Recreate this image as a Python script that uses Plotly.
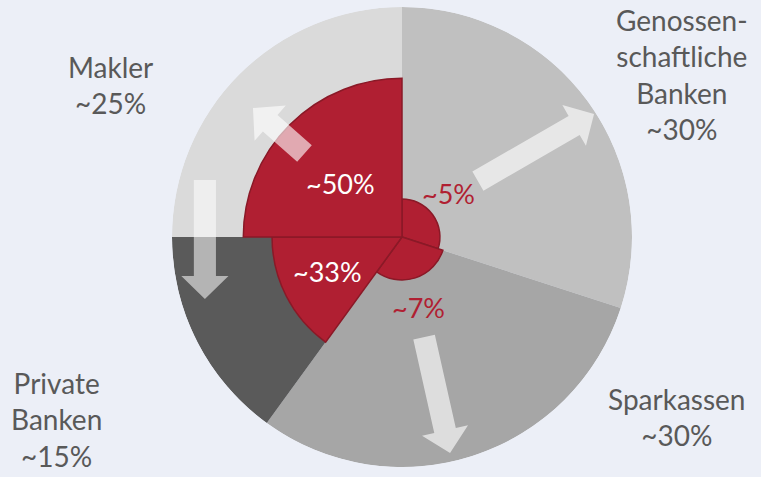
import math
import plotly.graph_objects as go

# ---------------- data ----------------
categories = ["Genossenschaftliche Banken", "Sparkassen", "Private Banken", "Makler"]
outer_labels = ["Genossen-<br>schaftliche<br>Banken<br>~30%", "Sparkassen<br>~30%",
                "Private<br>Banken<br>~15%", "Makler<br>~25%"]
market_share = [30, 30, 15, 25]          # outer pie slices (%)
inner_labels = ["~5%", "~7%", "~33%", "~50%"]
inner_radius = [16.5, 18.7, 56.5, 69.0]  # radius of red wedges (outer radius = 100)

# ---------------- styles ----------------
BG = "#eceff7"
gray_colors = ["#c0c0c0", "#a6a6a6", "#5a5a5a", "#dadada"]
RED = "#b01f32"
RED_EDGE = "#8a1927"
TEXT_GRAY = "#595959"
FONT = "Source Sans Pro, Lato, sans-serif"
W, H = 761, 477

# angles derived from the shares
width_deg = [s * 3.6 for s in market_share]
mid_deg = []
acc = 0
for w in width_deg:
    mid_deg.append(acc + w / 2)
    acc += w

fig = go.Figure()

fig.add_trace(go.Barpolar(
    r=[100] * len(categories), theta=mid_deg, width=width_deg,
    marker=dict(color=gray_colors, line=dict(width=0)),
    hoverinfo="skip", name="Markt"))

fig.add_trace(go.Barpolar(
    r=inner_radius, theta=mid_deg, width=width_deg,
    marker=dict(color=RED, line=dict(color=RED_EDGE, width=1.5)),
    hoverinfo="skip", name="Anteil"))

# decorative arrows (tail, tip in units of outer radius, x right / y up)
arrows = [
    ((0.330, 0.243), (0.835, 0.535), 0.62),
    ((0.096, -0.435), (0.209, -0.939), 0.62),
    ((-0.857, 0.248), (-0.857, -0.270), 0.55),
    ((-0.424, 0.363), (-0.648, 0.561), 0.62),
]
SW, HW, HL = 0.096, 0.205, 0.10
for (tx, ty), (px, py), op in arrows:
    L = math.hypot(px - tx, py - ty)
    ux, uy = (px - tx) / L, (py - ty) / L
    nx, ny = -uy, ux
    bx, by = px - ux * HL, py - uy * HL
    pts = [
        (tx + nx * SW / 2, ty + ny * SW / 2),
        (bx + nx * SW / 2, by + ny * SW / 2),
        (bx + nx * HW / 2, by + ny * HW / 2),
        (px, py),
        (bx - nx * HW / 2, by - ny * HW / 2),
        (bx - nx * SW / 2, by - ny * SW / 2),
        (tx - nx * SW / 2, ty - ny * SW / 2),
    ]
    pts.append(pts[0])
    rr = [100 * math.hypot(x, y) for x, y in pts]
    th = [math.degrees(math.atan2(x, y)) % 360 for x, y in pts]
    fig.add_trace(go.Scatterpolar(
        r=rr, theta=th, mode="lines", fill="toself",
        fillcolor=f"rgba(255,255,255,{op})", line=dict(width=0),
        hoverinfo="skip", showlegend=False))

# outer labels
outer_pos = [(682, 75), (676, 417), (57, 419), (110, 85)]
annotations = []
for txt, (x, y) in zip(outer_labels, outer_pos):
    annotations.append(dict(text=txt, x=x / W, y=1 - y / H, xref="paper", yref="paper",
                            showarrow=False, xanchor="center", yanchor="middle",
                            font=dict(family=FONT, size=28, color=TEXT_GRAY)))

inner_pos = [(448, 193), (418, 307), (327, 271), (340, 183)]
inner_colors = [RED, RED, "white", "white"]
for txt, (x, y), c in zip(inner_labels, inner_pos, inner_colors):
    annotations.append(dict(text=txt, x=x / W, y=1 - y / H, xref="paper", yref="paper",
                            showarrow=False, xanchor="center", yanchor="middle",
                            font=dict(family=FONT, size=27, color=c)))

fig.update_layout(
    width=W, height=H,
    margin=dict(l=0, r=0, t=0, b=0),
    paper_bgcolor=BG, plot_bgcolor=BG,
    showlegend=False,
    annotations=annotations,
    polar=dict(
        domain=dict(x=[172 / W, 632 / W], y=[1 - 467 / H, 1 - 7 / H]),
        bgcolor="rgba(0,0,0,0)",
        barmode="overlay",
        bargap=0,
        radialaxis=dict(visible=False, range=[0, 100]),
        angularaxis=dict(visible=False, rotation=90, direction="clockwise"),
    ),
)

fig.write_html("out.html")
